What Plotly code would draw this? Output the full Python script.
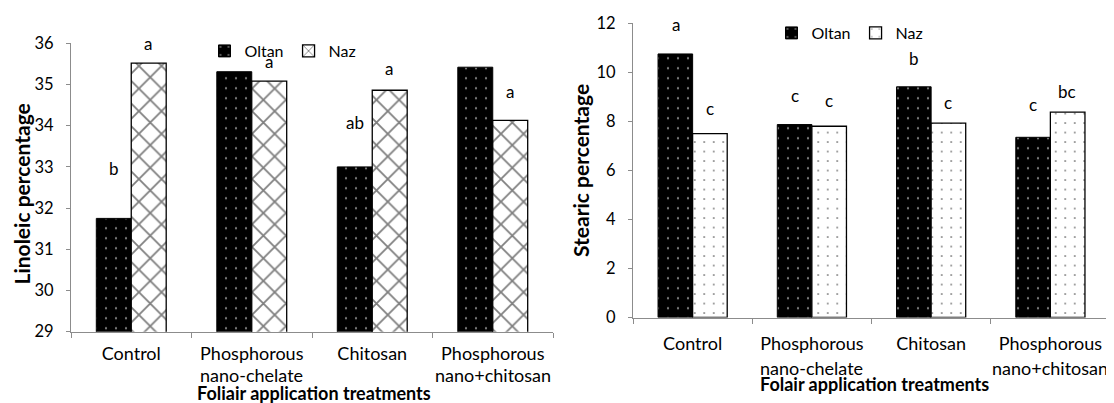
import plotly.graph_objects as go

# ---------------- data ----------------
categories = ["Control", "Phosphorous nano-chelate", "Chitosan", "Phosphorous nano+chitosan"]
tick_line1 = ["Control", "Phosphorous", "Chitosan", "Phosphorous"]
tick_line2 = ["", "nano-chelate", "", "nano+chitosan"]

linoleic_oltan = [31.75, 35.31, 33.00, 35.42]
linoleic_naz = [35.52, 35.08, 34.86, 34.13]
linoleic_oltan_letters = ["b", "a", "ab", "a"]
linoleic_naz_letters = ["a", "a", "a", "a"]
linoleic_oltan_letter_y = [32.95, 36.22, 34.07, 36.22]
linoleic_naz_letter_y = [36.00, 35.55, 35.38, 34.84]

stearic_oltan = [10.75, 7.87, 9.41, 7.35]
stearic_naz = [7.50, 7.80, 7.93, 8.38]
stearic_oltan_letters = ["a", "c", "b", "c"]
stearic_naz_letters = ["c", "c", "c", "bc"]
stearic_oltan_letter_y = [11.97, 9.05, 10.58, 8.68]
stearic_naz_letter_y = [8.54, 8.85, 8.78, 9.22]

y1_ticks = [29, 30, 31, 32, 33, 34, 35, 36]
y2_ticks = [0, 2, 4, 6, 8, 10, 12]

# ---------------- styling / layout helpers ----------------
FONT = "Lato"
AXIS_GREY = "#8c8c8c"
PAGE_W, PAGE_H = 1114, 403
OFF = 8                      # browser body margin
W, H = PAGE_W - OFF, PAGE_H - OFF


def px(xp):  # page pixel -> paper x
    return (xp - OFF) / W


def py(yp):  # page pixel -> paper y
    return 1 - (yp - OFF) / H


oltan_pattern = dict(shape=".", bgcolor="black", fgcolor="white", size=10, solidity=0.04)
naz_hatch = dict(shape="x", bgcolor="white", fgcolor="black", size=16, solidity=0.21)
naz_dots = dict(shape=".", bgcolor="white", fgcolor="black", size=9.5, solidity=0.03)

fig = go.Figure()

fig.add_trace(go.Bar(x=categories, y=linoleic_oltan, name="Oltan", xaxis="x", yaxis="y",
                     marker=dict(color="black", pattern=oltan_pattern, line=dict(color="black", width=1)),
                     legend="legend"))
fig.add_trace(go.Bar(x=categories, y=linoleic_naz, name="Naz", xaxis="x", yaxis="y",
                     marker=dict(color="white", pattern=naz_hatch, line=dict(color="black", width=1.3)),
                     legend="legend"))
fig.add_trace(go.Bar(x=categories, y=stearic_oltan, name="Oltan", xaxis="x2", yaxis="y2",
                     marker=dict(color="black", pattern=oltan_pattern, line=dict(color="black", width=1)),
                     legend="legend2"))
fig.add_trace(go.Bar(x=categories, y=stearic_naz, name="Naz", xaxis="x2", yaxis="y2",
                     marker=dict(color="white", pattern=naz_dots, line=dict(color="black", width=1.3)),
                     legend="legend2"))

annotations = []


def letter_ann(xref, yref, letters, ys, side):
    out = []
    for c, t, yy in zip(categories, letters, ys):
        out.append(dict(x=c, y=yy, xref=xref, yref=yref, text=t, showarrow=False,
                        xshift=side * 17, font=dict(family=FONT, size=17, color="black"),
                        yanchor="middle"))
    return out


annotations += letter_ann("x", "y", linoleic_oltan_letters, linoleic_oltan_letter_y, -1)
annotations += letter_ann("x", "y", linoleic_naz_letters, linoleic_naz_letter_y, 1)
annotations += letter_ann("x2", "y2", stearic_oltan_letters, stearic_oltan_letter_y, -1)
annotations += letter_ann("x2", "y2", stearic_naz_letters, stearic_naz_letter_y, 1)

# second line of category labels
for xr, yr, shift in (("x", "y domain", -43), ("x2", "y2 domain", -50)):
    for c, t in zip(categories, tick_line2):
        if t:
            annotations.append(dict(x=c, y=0, xref=xr, yref=yr, text=t, showarrow=False,
                                    yshift=shift, yanchor="middle",
                                    font=dict(family=FONT, size=18, color="black")))

# axis titles
annotations += [
    dict(text="<b>Foliair application treatments</b>", x=px(314), y=py(393), xref="paper",
         yref="paper", showarrow=False, xanchor="center", yanchor="middle",
         font=dict(family=FONT, size=18, color="black")),
    dict(text="<b>Folair application treatments</b>", x=px(874), y=py(384), xref="paper",
         yref="paper", showarrow=False, xanchor="center", yanchor="middle",
         font=dict(family=FONT, size=18, color="black")),
    dict(text="<b>Linoleic percentage</b>", x=px(20.5), y=py(194), xref="paper",
         yref="paper", showarrow=False, xanchor="center", yanchor="middle", textangle=-90,
         font=dict(family=FONT, size=21, color="black")),
    dict(text="<b>Stearic percentage</b>", x=px(580), y=py(171), xref="paper",
         yref="paper", showarrow=False, xanchor="center", yanchor="middle", textangle=-90,
         font=dict(family=FONT, size=21, color="black")),
]

xaxis_common = dict(type="category", tickson="boundaries", ticks="outside", ticklen=5,
                    tickcolor=AXIS_GREY, showline=True, linecolor=AXIS_GREY, linewidth=1,
                    showgrid=False, zeroline=False, tickvals=categories, ticktext=tick_line1,
                    tickfont=dict(family=FONT, size=18, color="black"),
                    range=[-0.5, 3.5])
yaxis_common = dict(ticks="outside", ticklen=4, tickcolor=AXIS_GREY, showline=True,
                    linecolor=AXIS_GREY, linewidth=1, showgrid=False, zeroline=False,
                    ticklabelstandoff=9,
                    tickfont=dict(family=FONT, size=16.5, color="black"))

fig.update_layout(
    width=W, height=H,
    margin=dict(l=0, r=0, t=0, b=0, autoexpand=False),
    paper_bgcolor="white", plot_bgcolor="white",
    barmode="group", bargap=0.42, bargroupgap=0,
    font=dict(family=FONT, color="black"),
    xaxis=dict(domain=[px(71), px(553)], anchor="y", ticklabelstandoff=6, **xaxis_common),
    yaxis=dict(domain=[py(331.7), py(43.3)], anchor="x", range=[29, 36],
               tickvals=y1_ticks, **yaxis_common),
    xaxis2=dict(domain=[px(633), px(1110)], anchor="y2", ticklabelstandoff=10, **xaxis_common),
    yaxis2=dict(domain=[py(317.5), py(23.3)], anchor="x2", range=[0, 12],
                tickvals=y2_ticks, **yaxis_common),
    legend=dict(orientation="h", x=px(283), y=py(51), xanchor="center", yanchor="middle",
                itemwidth=30, font=dict(family=FONT, size=16, color="black"),
                bgcolor="rgba(0,0,0,0)", tracegroupgap=0),
    legend2=dict(orientation="h", x=px(850), y=py(33), xanchor="center", yanchor="middle",
                 itemwidth=30, font=dict(family=FONT, size=16, color="black"),
                 bgcolor="rgba(0,0,0,0)", tracegroupgap=0),
    annotations=annotations,
)

fig.write_html("out.html")
